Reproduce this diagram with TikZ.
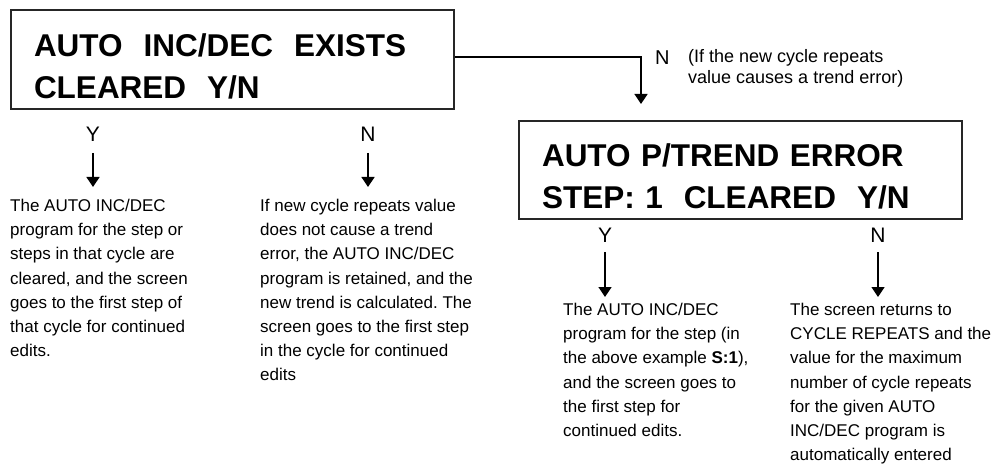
\documentclass[tikz,border=0pt]{standalone}
\usepackage{fontspec}
\setmainfont{Liberation Sans}
\frenchspacing
\usetikzlibrary{arrows.meta, positioning, calc}

\begin{document}
\begin{tikzpicture}[x=1pt, y=1pt]

        % Define styles for each type of node
        \tikzstyle{screen} = [rectangle, draw=black!85, line width=2pt, minimum width=443pt, minimum height=99pt, text width=397pt, inner xsep=23pt, inner ysep=0pt, align=left, text height=36pt, font=\bfseries\fontsize{31.5}{42}\selectfont]
        \tikzstyle{choice} = [inner sep=0pt, font=\fontsize{21}{25}\selectfont]
        \tikzstyle{note} = [inner sep=0pt, anchor=north west, align=left, font=\fontsize{17}{24.2}\selectfont]

        % Define arrow style
        \tikzstyle{arrow} = [line width=1.4pt, ->, >={Triangle[length=10pt, width=13pt]}]

        \useasboundingbox (0,0) rectangle (993,-465);

        % Nodes
        \node (cleared) [screen, anchor=north west] at (10,-9) {AUTO~ INC/DEC~ EXISTS\\CLEARED~ Y/N};
        \node (trendErr) [screen, anchor=north west, minimum height=98pt] at (518,-120) {AUTO P/TREND ERROR\\STEP: 1~ CLEARED~ Y/N};

        % "N" of the first screen leads to the trend error screen
        \coordinate (trendIn) at (641,-104);
        \node (noTop) [choice, font=\fontsize{20}{24}\selectfont, anchor=base west] at (655,-65) {N};
        \node (noTopNote) [note, font=\fontsize{18}{21}\selectfont] at (688,-49) {(If the new cycle repeats\\value causes a trend error)};

        % Answers to the first screen
        \node (yesA) [choice, anchor=south] at (93,-142) {Y};
        \node (noA) [choice, anchor=south] at (368,-142) {N};
        \node (yesAText) [note] at (10,-199) {The AUTO INC/DEC\\program for the step or\\steps in that cycle are\\cleared, and the screen\\goes to the first step of\\that cycle for continued\\edits.};
        \node (noAText) [note] at (260,-199) {If new cycle repeats value\\does not cause a trend\\error, the AUTO INC/DEC\\program is retained, and the\\new trend is calculated. The\\screen goes to the first step\\in the cycle for continued\\edits};

        % Answers to the trend error screen
        \node (yesB) [choice, anchor=south] at (605,-243) {Y};
        \node (noB) [choice, anchor=south] at (878,-243) {N};
        \node (yesBText) [note] at (563,-303) {The AUTO INC/DEC\\program for the step (in\\the above example \textbf{S:1}),\\and the screen goes to\\the first step for\\continued edits.};
        \node (noBText) [note] at (790,-303) {The screen returns to\\CYCLE REPEATS and the\\value for the maximum\\number of cycle repeats\\for the given AUTO\\INC/DEC program is\\automatically entered};

        % Arrows
        \draw [arrow] ([yshift=2.5pt]cleared.east) -| (trendIn);
        \draw [arrow, shorten <=11pt, shorten >=12pt] (yesA.south) -- (yesA.south |- yesAText.north);
        \draw [arrow, shorten <=11pt, shorten >=12pt] (noA.south) -- (noA.south |- noAText.north);
        \draw [arrow, shorten <=9pt, shorten >=6pt] (yesB.south) -- (yesB.south |- yesBText.north);
        \draw [arrow, shorten <=9pt, shorten >=6pt] (noB.south) -- (noB.south |- noBText.north);

\end{tikzpicture}
\end{document}
